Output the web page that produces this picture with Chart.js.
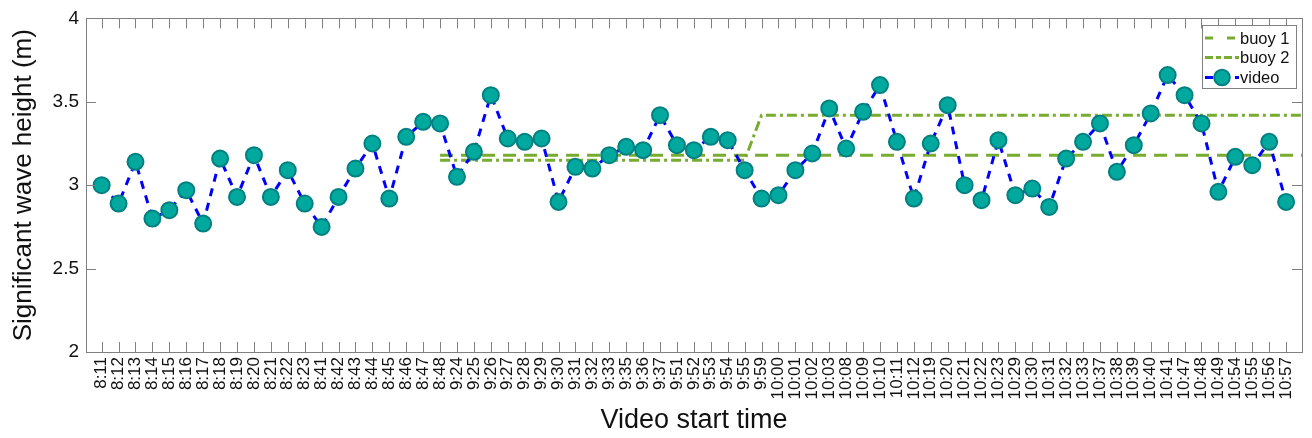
<!DOCTYPE html>
<html><head><meta charset="utf-8">
<script src="https://cdn.jsdelivr.net/npm/chart.js@4/dist/chart.umd.min.js"></script>
<style>html,body{margin:0;padding:0;background:#fff;}#wrap{width:1312px;height:438px;}</style>
</head><body><div id="wrap"><canvas id="c" width="1312" height="438"></canvas></div>
<script>
const timeLabels = ['8:11','8:12','8:13','8:14','8:15','8:16','8:17','8:18','8:19','8:20','8:21','8:22','8:23',
  '8:41','8:42','8:43','8:44','8:45','8:46','8:47','8:48',
  '9:24','9:25','9:26','9:27','9:28','9:29','9:30','9:31','9:32','9:33','9:35','9:36','9:37',
  '9:51','9:52','9:53','9:54','9:55','9:59',
  '10:00','10:01','10:02','10:03','10:08','10:09','10:10','10:11','10:12',
  '10:19','10:20','10:21','10:22','10:23','10:29','10:30','10:31','10:32','10:33',
  '10:37','10:38','10:39','10:40','10:41','10:47','10:48','10:49','10:54','10:55','10:56','10:57'];
const videoHeights = [3.00,2.89,3.14,2.80,2.85,2.97,2.77,3.16,2.93,3.18,2.93,3.09,2.89,2.75,2.93,3.10,3.25,2.92,3.29,3.38,3.37,3.05,3.20,3.54,
  3.28,3.26,3.28,2.90,3.11,3.10,3.18,3.23,3.21,3.42,3.24,3.21,3.29,3.27,3.09,2.92,2.94,3.09,3.19,3.46,3.22,3.44,3.60,3.26,
  2.92,3.25,3.48,3.00,2.91,3.27,2.94,2.98,2.87,3.16,3.26,3.37,3.08,3.24,3.43,3.66,3.54,3.37,2.96,3.17,3.12,3.26,2.90];
const buoy1Times = ['8:48','10:57'];
const buoy1Heights = [3.18,3.18];
const buoy2Times = ['8:48','9:55','9:59','10:57'];
const buoy2Heights = [3.15,3.15,3.42,3.42];
const yTicks = [2,2.5,3,3.5,4];

const X_MIN = -0.925, X_MAX = 70.94;
const FONT = "'Liberation Sans', Arial, Helvetica, sans-serif";
const GREEN = '#77AC30';

function toXY(times, vals, extendToEnd){
  return times.map((t,i)=>{
    let x = timeLabels.indexOf(t);
    if (extendToEnd && i === times.length-1) x = X_MAX;
    return {x:x, y:vals[i]};
  });
}

const framePlugin = {
  id:'frame',
  afterDatasetsDraw(chart){
    const ctx = chart.ctx, a = chart.chartArea, xs = chart.scales.x, ys = chart.scales.y;
    ctx.save();
    ctx.strokeStyle = '#808080';
    ctx.lineWidth = 1;
    ctx.setLineDash([]);
    ctx.beginPath();
    timeLabels.forEach((_,i)=>{
      const px = Math.round(xs.getPixelForValue(i))+0.5;
      ctx.moveTo(px, a.bottom); ctx.lineTo(px, a.bottom-10);
      ctx.moveTo(px, a.top); ctx.lineTo(px, a.top+10);
    });
    yTicks.forEach(v=>{
      const py = Math.round(ys.getPixelForValue(v))+0.5;
      ctx.moveTo(a.left, py); ctx.lineTo(a.left+10, py);
      ctx.moveTo(a.right, py); ctx.lineTo(a.right-10, py);
    });
    ctx.stroke();
    ctx.strokeRect(Math.round(a.left)+0.5, Math.round(a.top)+0.5, Math.round(a.right-a.left), Math.round(a.bottom-a.top));

    // legend
    const L = {x:1202.5, y:25.5, w:94, h:63};
    ctx.fillStyle = '#fff';
    ctx.fillRect(L.x, L.y, L.w, L.h);
    ctx.strokeStyle = '#808080';
    ctx.strokeRect(L.x, L.y, L.w, L.h);
    const rows = [38, 57.5, 77.5];
    chart.data.datasets.forEach((ds, i)=>{
      const y = rows[i];
      ctx.strokeStyle = ds.borderColor;
      ctx.lineWidth = ds.borderWidth;
      ctx.setLineDash(ds.legendDash || ds.borderDash || []);
      ctx.beginPath(); ctx.moveTo(1205, y); ctx.lineTo(1239, y); ctx.stroke();
      ctx.setLineDash([]);
      if (ds.pointRadius > 0){
        ctx.beginPath(); ctx.arc(1222, y, 7.8, 0, Math.PI*2);
        ctx.fillStyle = ds.pointBackgroundColor; ctx.fill();
        ctx.lineWidth = ds.pointBorderWidth; ctx.strokeStyle = ds.pointBorderColor; ctx.stroke();
      }
      ctx.fillStyle = '#111';
      ctx.font = '16.5px ' + FONT;
      ctx.textBaseline = 'middle';
      ctx.textAlign = 'left';
      ctx.fillText(ds.label, 1240, y+1);
    });
    ctx.restore();
  }
};

new Chart(document.getElementById('c'), {
  type:'line',
  data:{
    datasets:[
      {label:'buoy 1', data: toXY(buoy1Times, buoy1Heights, true), borderColor:GREEN, borderWidth:3,
       borderDash:[13,8], legendDash:[8,14], pointRadius:0, order:2, tension:0},
      {label:'buoy 2', data: toXY(buoy2Times, buoy2Heights, true), borderColor:GREEN, borderWidth:3,
       borderDash:[10,4,3,4], legendDash:[8,3,5,3], pointRadius:0, order:1, tension:0},
      {label:'video', data: videoHeights.map((v,i)=>({x:i,y:v})), borderColor:'#0000FF', borderWidth:3,
       borderDash:[8,7], pointRadius:8, pointBackgroundColor:'#00A89E', pointBorderColor:'#008080',
       pointBorderWidth:2, order:0, tension:0}
    ]
  },
  options:{
    responsive:false, animation:false, devicePixelRatio:1,
    layout:{padding:{left:8, right:6, top:15, bottom:0}},
    plugins:{legend:{display:false}, tooltip:{enabled:false}},
    scales:{
      x:{type:'linear', position:'bottom', min:X_MIN, max:X_MAX,
        afterBuildTicks: s => { s.ticks = timeLabels.map((_,i)=>({value:i})); },
        afterFit: s => { s.height = 86; },
        grid:{display:false, drawTicks:false}, border:{display:false},
        ticks:{autoSkip:false, maxRotation:90, minRotation:90, padding:5, color:'#111',
          font:{size:17, family:FONT}, callback:(v)=> timeLabels[v] !== undefined ? timeLabels[v] : ''},
        title:{display:true, text:'Video start time', color:'#111', font:{size:27, family:FONT}, padding:{top:0, bottom:1}}
      },
      y:{min:2, max:4,
        afterBuildTicks: s => { s.ticks = yTicks.map(v=>({value:v})); },
        afterFit: s => { s.width = 78; },
        grid:{display:false, drawTicks:false}, border:{display:false},
        ticks:{padding:7, color:'#111', font:{size:19, family:FONT}, callback:(v)=> String(v)},
        title:{display:true, text:'Significant wave height (m)', color:'#111', font:{size:26, family:FONT}, padding:0}
      }
    }
  },
  plugins:[framePlugin]
});
</script>
</body></html>
